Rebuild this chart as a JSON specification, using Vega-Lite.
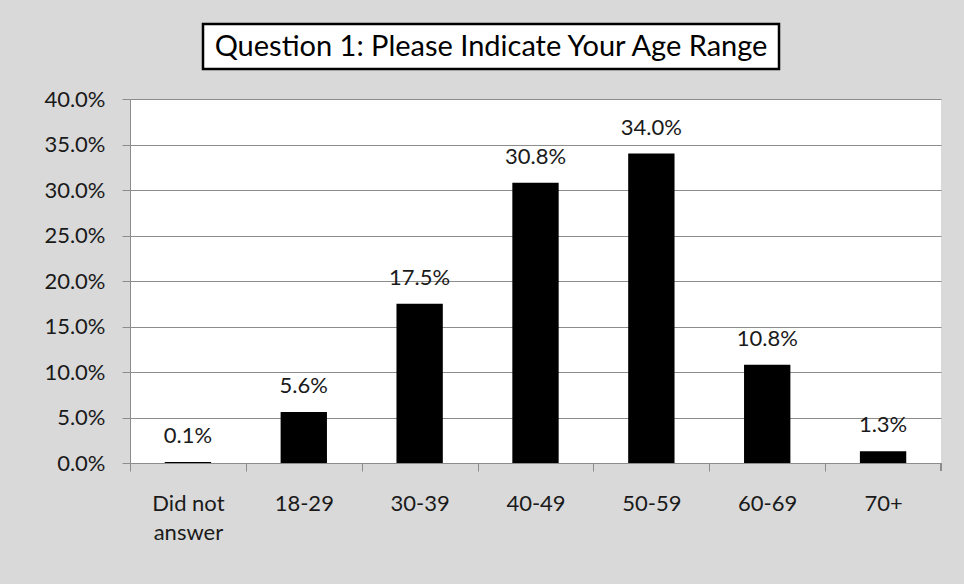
{
  "$schema": "https://vega.github.io/schema/vega-lite/v6.json",
  "background": "#d9d9d9",
  "padding": {"left": 43, "top": 22, "right": 24, "bottom": 41},
  "config": {
    "font": "Lato",
    "view": {"stroke": null},
    "concat": {"spacing": 17},
    "axis": {"labelFont": "Lato", "labelFontSize": 22, "labelColor": "#1a1a1a", "domainColor": "#8c8c8c", "tickColor": "#8c8c8c", "gridColor": "#8c8c8c", "tickSize": 8, "title": null}
  },
  "vconcat": [
    {
      "hconcat": [
        {
          "width": 71,
          "height": 45,
          "view": {"fill": null, "stroke": null},
          "data": {"values": [{"t": ""}]},
          "mark": {"type": "text"},
          "encoding": {"text": {"field": "t", "type": "nominal"}}
        },
        {
          "width": 576,
          "height": 45,
          "view": {"fill": "white", "stroke": "black", "strokeWidth": 2.5},
          "data": {"values": [{"title": "Question 1: Please Indicate Your Age Range"}]},
          "mark": {"type": "text", "fontSize": 29, "font": "Lato", "color": "black", "baseline": "middle", "align": "center"},
          "encoding": {"text": {"field": "title", "type": "nominal"}}
        }
      ],
      "spacing": 0
    },
    {
      "width": 811,
      "height": 364,
      "view": {"fill": "white", "stroke": null},
      "data": {
        "values": [
          {"age": "Did not answer", "pct": 0.001},
          {"age": "18-29", "pct": 0.056},
          {"age": "30-39", "pct": 0.175},
          {"age": "40-49", "pct": 0.308},
          {"age": "50-59", "pct": 0.34},
          {"age": "60-69", "pct": 0.108},
          {"age": "70+", "pct": 0.013}
        ]
      },
      "encoding": {
        "x": {
          "field": "age",
          "type": "nominal",
          "sort": null,
          "scale": {"paddingInner": 0.6, "paddingOuter": 0.3},
          "axis": {
            "labelAngle": 0,
            "tickOffset": -57.9,
            "labelOffset": 57.9,
            "labelPadding": 22,
            "labelLineHeight": 29,
            "labelExpr": "datum.value == 'Did not answer' ? ['Did not', 'answer'] : datum.value",
            "grid": false
          }
        },
        "y": {
          "field": "pct",
          "type": "quantitative",
          "scale": {"domain": [0, 0.4], "nice": false},
          "axis": {"values": [0, 0.05, 0.1, 0.15, 0.2, 0.25, 0.3, 0.35, 0.4], "format": ".1%", "labelPadding": 17, "grid": true}
        }
      },
      "layer": [
        {"mark": {"type": "bar", "color": "black"}},
        {
          "mark": {"type": "text", "fontSize": 22, "font": "Lato", "color": "#1a1a1a", "dy": -26, "baseline": "middle"},
          "encoding": {"text": {"field": "pct", "type": "quantitative", "format": ".1%"}}
        },
        {
          "mark": {"type": "rule", "color": "#8c8c8c", "xOffset": 34.75, "y2Offset": 8},
          "encoding": {
            "x": {"datum": "70+", "type": "nominal", "bandPosition": 1},
            "y": {"datum": 0, "type": "quantitative"},
            "y2": {"datum": 0}
          }
        }
      ]
    }
  ]
}
